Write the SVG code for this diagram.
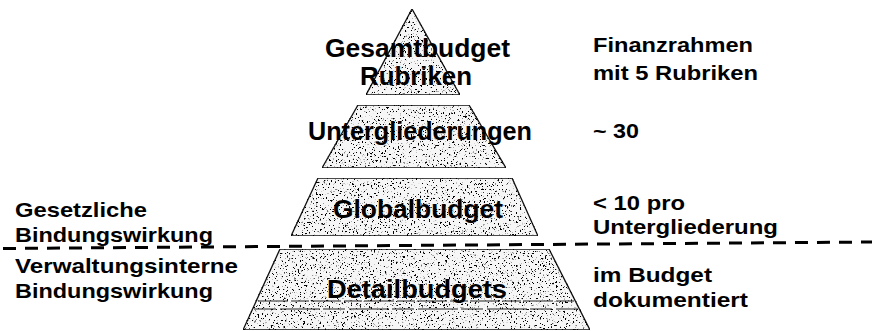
<svg xmlns="http://www.w3.org/2000/svg" width="874" height="331" viewBox="0 0 874 331">
<style>
.t{font-family:"Liberation Sans",Arial,sans-serif;font-weight:bold;fill:#000}
.p{font-size:26px}
.s{font-size:21px}
.layer{fill:#f6f6f6;stroke:#111;stroke-width:1.3;filter:url(#grain)}
</style>
<defs>
<filter id="grain" x="0" y="0" width="100%" height="100%">
<feTurbulence type="fractalNoise" baseFrequency="0.55" numOctaves="3" seed="7" result="n"/>
<feColorMatrix in="n" type="matrix" values="0 0 0 0 0  0 0 0 0 0  0 0 0 0 0  14 0 0 0 -8.6" result="dots"/>
<feComposite in="dots" in2="SourceGraphic" operator="in" result="d2"/>
<feMerge><feMergeNode in="SourceGraphic"/><feMergeNode in="d2"/></feMerge>
</filter>
</defs>
<rect width="874" height="331" fill="#fff"/>
<g id="layer1">
<polygon class="layer" points="412,9 460,95 366,95"/>
<text class="t p" x="325" y="57" textLength="185" lengthAdjust="spacingAndGlyphs">Gesamtbudget</text>
<text class="t p" x="360" y="85" textLength="112" lengthAdjust="spacingAndGlyphs">Rubriken</text>
</g>
<g id="layer2">
<polygon class="layer" points="358,105 469,105 506,168 322,168"/>
<text class="t p" x="308" y="140" textLength="224" lengthAdjust="spacingAndGlyphs">Untergliederungen</text>
</g>
<g id="layer3">
<polygon class="layer" points="318,178 512,178 538,236 291,236"/>
<text class="t p" x="333" y="218" textLength="170" lengthAdjust="spacingAndGlyphs">Globalbudget</text>
</g>
<g id="layer4">
<polygon class="layer" points="280,249 549,249 590,330 243,330"/>
<line x1="258" y1="301" x2="574" y2="301" stroke="#222" stroke-width="1.2" stroke-dasharray="30 3 18 2"/>
<line x1="254" y1="309" x2="578" y2="309" stroke="#222" stroke-width="1.2" stroke-dasharray="22 4 40 3"/>
<text class="t p" x="327" y="298" textLength="180" lengthAdjust="spacingAndGlyphs">Detailbudgets</text>
</g>
<g id="connectors">
<line x1="3" y1="248.5" x2="872" y2="242" stroke="#000" stroke-width="3" stroke-dasharray="13 9"/>
</g>
<g id="labels-left">
<text class="t s" x="15" y="217" textLength="132" lengthAdjust="spacingAndGlyphs">Gesetzliche</text>
<text class="t s" x="15" y="242" textLength="198" lengthAdjust="spacingAndGlyphs">Bindungswirkung</text>
<text class="t s" x="15" y="273" textLength="223" lengthAdjust="spacingAndGlyphs">Verwaltungsinterne</text>
<text class="t s" x="15" y="298" textLength="198" lengthAdjust="spacingAndGlyphs">Bindungswirkung</text>
</g>
<g id="labels-right">
<text class="t s" x="593" y="52" textLength="160" lengthAdjust="spacingAndGlyphs">Finanzrahmen</text>
<text class="t s" x="593" y="80" textLength="165" lengthAdjust="spacingAndGlyphs">mit 5 Rubriken</text>
<text class="t s" x="593" y="138" textLength="46" lengthAdjust="spacingAndGlyphs">~ 30</text>
<text class="t s" x="593" y="210" textLength="92" lengthAdjust="spacingAndGlyphs">&lt; 10 pro</text>
<text class="t s" x="593" y="234" textLength="185" lengthAdjust="spacingAndGlyphs">Untergliederung</text>
<text class="t s" x="593" y="282" textLength="119" lengthAdjust="spacingAndGlyphs">im Budget</text>
<text class="t s" x="593" y="307" textLength="155" lengthAdjust="spacingAndGlyphs">dokumentiert</text>
</g>
</svg>
